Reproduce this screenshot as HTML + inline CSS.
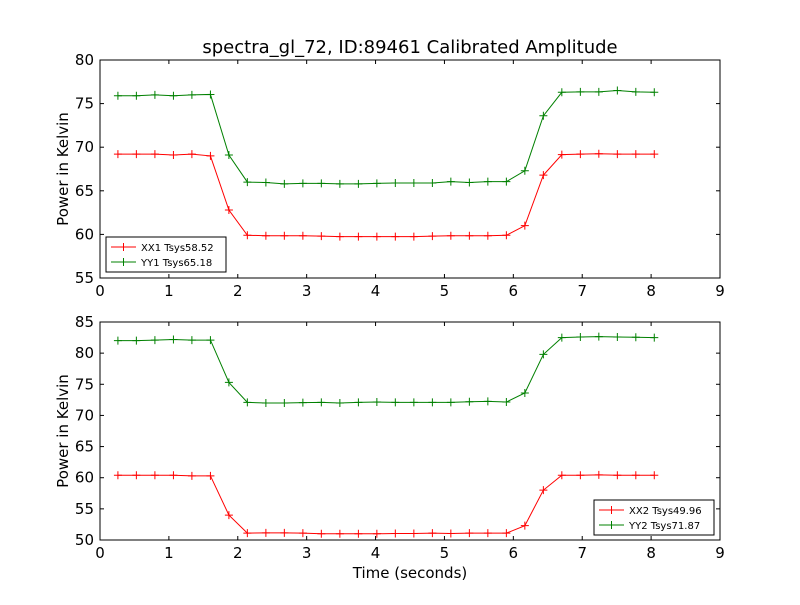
<!DOCTYPE html>
<html><head><meta charset="utf-8"><style>
body{margin:0;background:#fff}
svg{font-family:"DejaVu Sans","Liberation Sans",sans-serif}
</style></head><body>
<svg id="fig" width="800" height="600" xmlns="http://www.w3.org/2000/svg">
<rect width="800" height="600" fill="#fff"/>
<text x="410" y="53" font-size="18" text-anchor="middle">spectra_gl_72, ID:89461 Calibrated Amplitude</text>
<text x="410" y="578" font-size="15" text-anchor="middle">Time (seconds)</text>
</svg>
<script>
const times=[];for(let i=0;i<30;i++)times.push(+(0.26+i*0.2685).toFixed(3));
const xx1=[69.2,69.2,69.2,69.1,69.2,69.0,62.8,59.9,59.85,59.85,59.85,59.8,59.75,59.75,59.75,59.75,59.75,59.8,59.85,59.85,59.85,59.9,61.0,66.8,69.15,69.2,69.25,69.2,69.2,69.2];
const yy1=[75.9,75.9,76.0,75.9,76.0,76.05,69.1,66.0,65.95,65.8,65.85,65.85,65.8,65.8,65.85,65.9,65.9,65.9,66.05,65.95,66.05,66.05,67.3,73.6,76.3,76.35,76.35,76.5,76.35,76.3];
const xx2=[60.4,60.4,60.4,60.4,60.3,60.3,54.0,51.1,51.15,51.15,51.1,51.0,51.0,51.0,51.0,51.05,51.05,51.1,51.05,51.1,51.1,51.1,52.3,58.0,60.4,60.4,60.45,60.4,60.4,60.4];
const yy2=[82.0,82.0,82.1,82.2,82.1,82.1,75.3,72.1,72.0,72.0,72.05,72.1,72.0,72.1,72.15,72.1,72.1,72.1,72.1,72.2,72.25,72.15,73.6,79.8,82.5,82.6,82.65,82.6,82.55,82.5];
const xTicks=[0,1,2,3,4,5,6,7,8,9];
const yTicksTop=[55,60,65,70,75,80];
const yTicksBot=[50,55,60,65,70,75,80,85];
const NS="http://www.w3.org/2000/svg",svg=document.getElementById('fig');
function mk(t,a,p){const e=document.createElementNS(NS,t);for(const k in a)e.setAttribute(k,a[k]);(p||svg).appendChild(e);return e;}
function panel(name,top,bottom,ymin,ymax,yt,series,leg){
 const L=100,R=720;
 const xs=v=>L+(v-0)/9*(R-L), ys=v=>bottom-(v-ymin)/(ymax-ymin)*(bottom-top);
 const g=mk('g',{});
 
 
 mk('rect',{x:L,y:top,width:R-L,height:bottom-top,fill:'#fff',stroke:'#000','stroke-width':1},g);
 xTicks.forEach(t=>{const x=xs(t);
  mk('line',{x1:x,x2:x,y1:bottom,y2:bottom-4,stroke:'#000'},g);
  mk('line',{x1:x,x2:x,y1:top,y2:top+4,stroke:'#000'},g);
  const tx=mk('text',{x:x,y:bottom+18,'font-size':15,'text-anchor':'middle'},g);tx.textContent=t;
  
  });
 yt.forEach(t=>{const y=ys(t);
  mk('line',{x1:L,x2:L+4,y1:y,y2:y,stroke:'#000'},g);
  mk('line',{x1:R,x2:R-4,y1:y,y2:y,stroke:'#000'},g);
  const tx=mk('text',{x:L-6,y:y+5,'font-size':15,'text-anchor':'end'},g);tx.textContent=t;
  
  });
 const yl=mk('text',{x:68,y:(top+bottom)/2,'font-size':15,'text-anchor':'middle',transform:`rotate(-90 68 ${(top+bottom)/2})`},g);
 yl.textContent='Power in Kelvin';
 
 
 series.forEach(s=>{
  const pts=s.vals.map((v,i)=>xs(times[i])+','+ys(v)).join(' ');
  const pl=mk('polyline',{points:pts,fill:'none',stroke:s.c,'stroke-width':1},g);
  
  
  s.vals.forEach((v,i)=>{const x=xs(times[i]),y=ys(v);
   mk('path',{d:`M${x-4},${y}H${x+4}M${x},${y-4}V${y+4}`,stroke:s.c},g);});
 });
 const lg=mk('g',{},g);
 
 
 mk('rect',{x:leg.x,y:leg.y,width:120,height:35,fill:'#fff',stroke:'#000'},lg);
 series.forEach((s,i)=>{const y=leg.y+10+i*15;
  mk('line',{x1:leg.x+5,x2:leg.x+30,y1:y,y2:y,stroke:s.c},lg);
  mk('path',{d:`M${leg.x+13.5},${y}H${leg.x+21.5}M${leg.x+17.5},${y-4}V${y+4}`,stroke:s.c},lg);
  const t=mk('text',{x:leg.x+35,y:y+4,'font-size':10},lg);t.textContent=s.label;
  
  });
}
panel('top-panel',60,278,55,80,yTicksTop,[{n:'xx1',c:'#ff0000',vals:xx1,label:'XX1 Tsys58.52'},{n:'yy1',c:'#008000',vals:yy1,label:'YY1 Tsys65.18'}],{x:106,y:237});
panel('bottom-panel',322,540,50,85,yTicksBot,[{n:'xx2',c:'#ff0000',vals:xx2,label:'XX2 Tsys49.96'},{n:'yy2',c:'#008000',vals:yy2,label:'YY2 Tsys71.87'}],{x:594,y:500});
</script>
</body></html>
